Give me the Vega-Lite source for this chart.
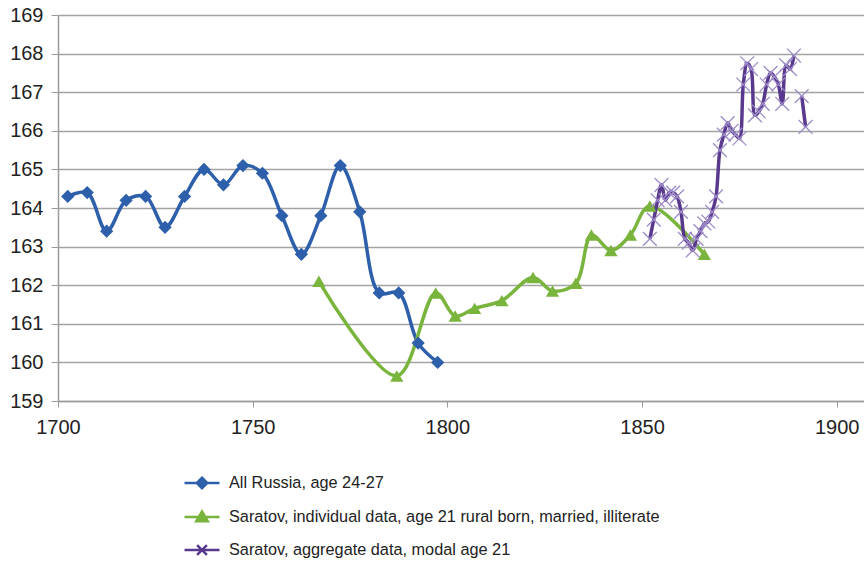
{
  "$schema": "https://vega.github.io/schema/vega-lite/v6.json",
  "autosize": {"type": "none"},
  "padding": {"left": 58, "top": 15, "right": 0, "bottom": 165},
  "width": 806,
  "height": 386,
  "background": "white",
  "config": {
    "view": {"stroke": null},
    "font": "Liberation Sans",
    "axis": {"labelFont": "Liberation Sans", "labelColor": "#222222", "title": null}
  },
  "data": {
    "values": [
      {"series": "All Russia, age 24-27", "year": 1702.5, "height": 164.3, "part": "a"},
      {"series": "All Russia, age 24-27", "year": 1707.5, "height": 164.4, "part": "a"},
      {"series": "All Russia, age 24-27", "year": 1712.5, "height": 163.4, "part": "a"},
      {"series": "All Russia, age 24-27", "year": 1717.5, "height": 164.2, "part": "a"},
      {"series": "All Russia, age 24-27", "year": 1722.5, "height": 164.3, "part": "a"},
      {"series": "All Russia, age 24-27", "year": 1727.5, "height": 163.5, "part": "a"},
      {"series": "All Russia, age 24-27", "year": 1732.5, "height": 164.3, "part": "a"},
      {"series": "All Russia, age 24-27", "year": 1737.5, "height": 165.0, "part": "a"},
      {"series": "All Russia, age 24-27", "year": 1742.5, "height": 164.6, "part": "a"},
      {"series": "All Russia, age 24-27", "year": 1747.5, "height": 165.1, "part": "a"},
      {"series": "All Russia, age 24-27", "year": 1752.5, "height": 164.9, "part": "a"},
      {"series": "All Russia, age 24-27", "year": 1757.5, "height": 163.8, "part": "a"},
      {"series": "All Russia, age 24-27", "year": 1762.5, "height": 162.8, "part": "a"},
      {"series": "All Russia, age 24-27", "year": 1767.5, "height": 163.8, "part": "a"},
      {"series": "All Russia, age 24-27", "year": 1772.5, "height": 165.1, "part": "a"},
      {"series": "All Russia, age 24-27", "year": 1777.5, "height": 163.9, "part": "a"},
      {"series": "All Russia, age 24-27", "year": 1782.5, "height": 161.8, "part": "a"},
      {"series": "All Russia, age 24-27", "year": 1787.5, "height": 161.8, "part": "a"},
      {"series": "All Russia, age 24-27", "year": 1792.5, "height": 160.5, "part": "a"},
      {"series": "All Russia, age 24-27", "year": 1797.5, "height": 160.0, "part": "a"},
      {"series": "Saratov, individual data, age 21 rural born, married, illiterate", "year": 1767, "height": 162.1, "part": "a"},
      {"series": "Saratov, individual data, age 21 rural born, married, illiterate", "year": 1787, "height": 159.65, "part": "a"},
      {"series": "Saratov, individual data, age 21 rural born, married, illiterate", "year": 1797, "height": 161.8, "part": "a"},
      {"series": "Saratov, individual data, age 21 rural born, married, illiterate", "year": 1802, "height": 161.2, "part": "a"},
      {"series": "Saratov, individual data, age 21 rural born, married, illiterate", "year": 1807, "height": 161.4, "part": "a"},
      {"series": "Saratov, individual data, age 21 rural born, married, illiterate", "year": 1814, "height": 161.6, "part": "a"},
      {"series": "Saratov, individual data, age 21 rural born, married, illiterate", "year": 1822, "height": 162.2, "part": "a"},
      {"series": "Saratov, individual data, age 21 rural born, married, illiterate", "year": 1827, "height": 161.85, "part": "a"},
      {"series": "Saratov, individual data, age 21 rural born, married, illiterate", "year": 1833, "height": 162.05, "part": "a"},
      {"series": "Saratov, individual data, age 21 rural born, married, illiterate", "year": 1837, "height": 163.3, "part": "a"},
      {"series": "Saratov, individual data, age 21 rural born, married, illiterate", "year": 1842, "height": 162.9, "part": "a"},
      {"series": "Saratov, individual data, age 21 rural born, married, illiterate", "year": 1847, "height": 163.3, "part": "a"},
      {"series": "Saratov, individual data, age 21 rural born, married, illiterate", "year": 1852, "height": 164.05, "part": "a"},
      {"series": "Saratov, individual data, age 21 rural born, married, illiterate", "year": 1866, "height": 162.8, "part": "a"},
      {"series": "Saratov, aggregate data, modal age 21", "year": 1852, "height": 163.2, "part": "a"},
      {"series": "Saratov, aggregate data, modal age 21", "year": 1853, "height": 163.7, "part": "a"},
      {"series": "Saratov, aggregate data, modal age 21", "year": 1854, "height": 164.2, "part": "a"},
      {"series": "Saratov, aggregate data, modal age 21", "year": 1855, "height": 164.6, "part": "a"},
      {"series": "Saratov, aggregate data, modal age 21", "year": 1856, "height": 164.2, "part": "a"},
      {"series": "Saratov, aggregate data, modal age 21", "year": 1857, "height": 164.4, "part": "a"},
      {"series": "Saratov, aggregate data, modal age 21", "year": 1858, "height": 164.4, "part": "a"},
      {"series": "Saratov, aggregate data, modal age 21", "year": 1859, "height": 164.3, "part": "a"},
      {"series": "Saratov, aggregate data, modal age 21", "year": 1860, "height": 163.9, "part": "a"},
      {"series": "Saratov, aggregate data, modal age 21", "year": 1861, "height": 163.2, "part": "a"},
      {"series": "Saratov, aggregate data, modal age 21", "year": 1862, "height": 163.1, "part": "a"},
      {"series": "Saratov, aggregate data, modal age 21", "year": 1863, "height": 162.9, "part": "a"},
      {"series": "Saratov, aggregate data, modal age 21", "year": 1864, "height": 163.2, "part": "a"},
      {"series": "Saratov, aggregate data, modal age 21", "year": 1865, "height": 163.4, "part": "a"},
      {"series": "Saratov, aggregate data, modal age 21", "year": 1866, "height": 163.6, "part": "a"},
      {"series": "Saratov, aggregate data, modal age 21", "year": 1867, "height": 163.65, "part": "a"},
      {"series": "Saratov, aggregate data, modal age 21", "year": 1868, "height": 163.9, "part": "a"},
      {"series": "Saratov, aggregate data, modal age 21", "year": 1869, "height": 164.3, "part": "a"},
      {"series": "Saratov, aggregate data, modal age 21", "year": 1870, "height": 165.5, "part": "a"},
      {"series": "Saratov, aggregate data, modal age 21", "year": 1871, "height": 165.9, "part": "a"},
      {"series": "Saratov, aggregate data, modal age 21", "year": 1872, "height": 166.2, "part": "a"},
      {"series": "Saratov, aggregate data, modal age 21", "year": 1873, "height": 166.0, "part": "a"},
      {"series": "Saratov, aggregate data, modal age 21", "year": 1874, "height": 165.9, "part": "a"},
      {"series": "Saratov, aggregate data, modal age 21", "year": 1875, "height": 165.8, "part": "a"},
      {"series": "Saratov, aggregate data, modal age 21", "year": 1876, "height": 167.2, "part": "a"},
      {"series": "Saratov, aggregate data, modal age 21", "year": 1877, "height": 167.75, "part": "a"},
      {"series": "Saratov, aggregate data, modal age 21", "year": 1878, "height": 167.6, "part": "a"},
      {"series": "Saratov, aggregate data, modal age 21", "year": 1879, "height": 166.4, "part": "a"},
      {"series": "Saratov, aggregate data, modal age 21", "year": 1880, "height": 166.5, "part": "a"},
      {"series": "Saratov, aggregate data, modal age 21", "year": 1881, "height": 166.7, "part": "a"},
      {"series": "Saratov, aggregate data, modal age 21", "year": 1882, "height": 167.2, "part": "a"},
      {"series": "Saratov, aggregate data, modal age 21", "year": 1883, "height": 167.5, "part": "a"},
      {"series": "Saratov, aggregate data, modal age 21", "year": 1884, "height": 167.4, "part": "a"},
      {"series": "Saratov, aggregate data, modal age 21", "year": 1885, "height": 167.2, "part": "a"},
      {"series": "Saratov, aggregate data, modal age 21", "year": 1886, "height": 166.7, "part": "a"},
      {"series": "Saratov, aggregate data, modal age 21", "year": 1887, "height": 167.7, "part": "a"},
      {"series": "Saratov, aggregate data, modal age 21", "year": 1888, "height": 167.6, "part": "a"},
      {"series": "Saratov, aggregate data, modal age 21", "year": 1889, "height": 167.95, "part": "a"},
      {"series": "Saratov, aggregate data, modal age 21", "year": 1891, "height": 166.9, "part": "b"},
      {"series": "Saratov, aggregate data, modal age 21", "year": 1892, "height": 166.1, "part": "b"}
    ]
  },
  "encoding": {
    "x": {
      "field": "year", "type": "quantitative",
      "scale": {"domain": [1700, 1907], "nice": false, "zero": false},
      "axis": {
        "values": [1700, 1750, 1800, 1850, 1900], "format": "d", "grid": false,
        "tickSize": 6, "tickColor": "#9a9a9a", "domainColor": "#9a9a9a", "domainWidth": 1.5,
        "labelFontSize": 20, "labelPadding": 10, "labelFlush": false
      }
    },
    "y": {
      "field": "height", "type": "quantitative",
      "scale": {"domain": [159, 169], "nice": false, "zero": false},
      "axis": {
        "values": [159, 160, 161, 162, 163, 164, 165, 166, 167, 168, 169],
        "grid": true, "gridColor": "#a3a3a3", "gridWidth": 1.5,
        "tickSize": 7, "tickColor": "#9a9a9a", "domainColor": "#9a9a9a", "domainWidth": 1.5,
        "labelFontSize": 20, "labelPadding": 8
      }
    }
  },
  "layer": [
    {
      "mark": {"type": "line", "interpolate": "catmull-rom", "strokeWidth": 3.5},
      "encoding": {
        "detail": {"field": "part"},
        "color": {
          "field": "series", "type": "nominal",
          "scale": {
            "domain": ["All Russia, age 24-27", "Saratov, individual data, age 21 rural born, married, illiterate", "Saratov, aggregate data, modal age 21"],
            "range": ["#2d5fab", "#79b43d", "#58398d"]
          },
          "legend": {
            "title": null, "orient": "none", "legendX": 125, "legendY": 449,
            "direction": "vertical", "padding": 0, "rowPadding": 4,
            "symbolSize": 1225, "symbolStrokeWidth": 2.5,
            "labelFont": "Liberation Sans", "labelFontSize": 16.3, "labelColor": "#222222", "labelOffset": 8, "labelLimit": 600,
            "encode": {
              "symbols": {
                "update": {
                  "shape": {"signal": "datum.value === 'All Russia, age 24-27' ? 'M-1,0H1M0,-0.3L0.3,0L0,0.3L-0.3,0Z' : (datum.value === 'Saratov, aggregate data, modal age 21' ? 'M-1,0H1M-0.28,-0.28L0.28,0.28M-0.28,0.28L0.28,-0.28' : 'M-1,0H1M0,-0.32L0.33,0.24L-0.33,0.24Z')"},
                  "fill": {"scale": "color", "field": "value"},
                  "stroke": {"scale": "color", "field": "value"},
                  "strokeWidth": {"value": 2.5},
                  "opacity": {"value": 1},
                  "size": {"value": 1225}
                }
              }
            }
          }
        }
      }
    },
    {
      "transform": [{"filter": "datum.series !== 'Saratov, aggregate data, modal age 21'"}],
      "mark": {"type": "point", "filled": true, "opacity": 1, "size": 175},
      "encoding": {
        "color": {"field": "series", "type": "nominal"},
        "shape": {
          "field": "series", "type": "nominal", "legend": null,
          "scale": {
            "domain": ["All Russia, age 24-27", "Saratov, individual data, age 21 rural born, married, illiterate"],
            "range": ["diamond", "triangle-up"]
          }
        }
      }
    },
    {
      "transform": [{"filter": "datum.series === 'Saratov, aggregate data, modal age 21'"}],
      "mark": {"type": "point", "filled": false, "opacity": 1, "size": 190, "shape": "M-1,-1L1,1M-1,1L1,-1", "color": "#9e8cc8", "strokeWidth": 1.3}
    }
  ]
}
